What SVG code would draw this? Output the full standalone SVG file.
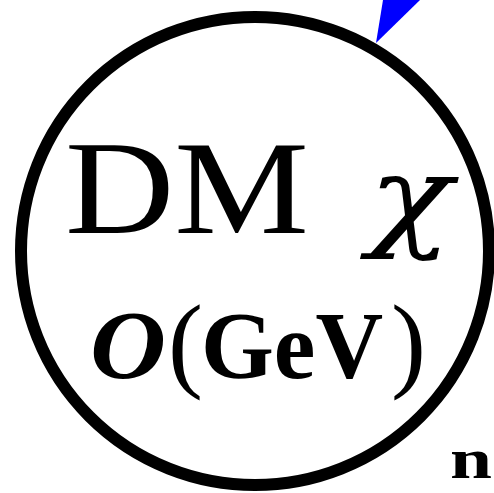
<svg xmlns="http://www.w3.org/2000/svg" width="494" height="493" viewBox="0 0 494 493">
<style>
.t{font-family:"Liberation Serif","DejaVu Serif",serif;fill:#000}
</style>
<rect width="494" height="493" fill="#fff"/>
<g id="connectors">
<polygon points="376,43 383,0 420,0" fill="#0000ff"/>
</g>
<g id="dm-node">
<circle cx="255" cy="251" r="234" fill="none" stroke="#000" stroke-width="12"/>
<text class="t" x="65" y="233" font-size="133" textLength="244" lengthAdjust="spacingAndGlyphs">DM</text>
<text x="368" y="236" font-family="'DejaVu Serif',serif" font-size="112" font-style="italic" textLength="84" lengthAdjust="spacingAndGlyphs">χ</text>
<text class="t" x="90" y="378" font-size="98" font-style="italic" font-weight="bold" textLength="76" lengthAdjust="spacingAndGlyphs">O</text>
<text class="t" x="168" y="378" font-size="105">(</text>
<text class="t" x="201" y="378" font-size="96" font-weight="bold" textLength="182" lengthAdjust="spacingAndGlyphs">GeV</text>
<text class="t" x="391" y="378" font-size="105">)</text>
</g>
<g id="n-node">
<text class="t" x="450" y="478" font-size="58" font-weight="bold" textLength="42" lengthAdjust="spacingAndGlyphs">n</text>
</g>
</svg>
